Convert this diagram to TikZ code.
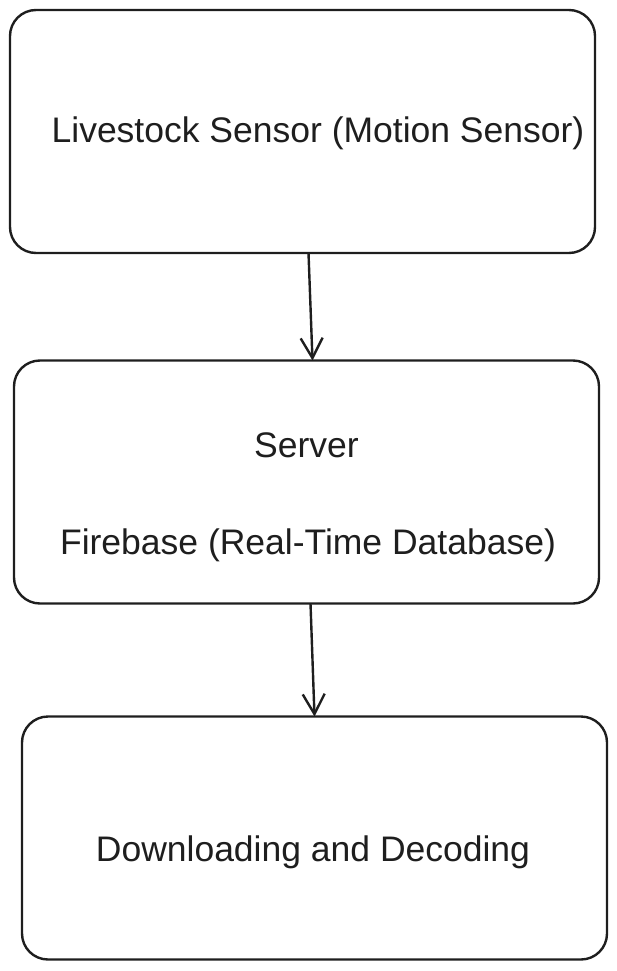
\documentclass[tikz,border=0pt]{standalone}
\usepackage{fontspec}
\setmainfont{Liberation Sans}
\usetikzlibrary{arrows.meta}
\definecolor{ink}{HTML}{1E1E1E}

\begin{document}
\begin{tikzpicture}[x=1pt, y=-1pt,
		box/.style={draw=ink, line width=2.4pt, rounded corners=26pt, minimum width=585pt, minimum height=243pt, inner sep=0pt, outer sep=0pt},
		lbl/.style={text=ink, inner sep=0pt, font=\fontsize{35.5}{42}\selectfont},
		flow/.style={draw=ink, line width=2.4pt, -{Straight Barb[length=20pt, width=22pt, line width=2.4pt]}}]
		\useasboundingbox (0,0) rectangle (617,971);
		\node [box] (sensor) at (302.5,131.5) {};
		\node [box] (server) at (306.5,482) {};
		\node [box] (decode) at (314.5,838) {};
		\node [lbl] (sensortxt) at (318,133) {Livestock Sensor (Motion Sensor)};
		\node [lbl] (servertxt) at (306.5,445) {Server};
		\node [lbl] (firebasetxt) at (308,545) {Firebase (Real-Time Database)};
		\node [lbl] (decodetxt) at (313,852) {Downloading and Decoding};
		\draw[flow] ([xshift=6pt]sensor.south) -- ([xshift=6pt]server.north);
		\draw[flow] ([xshift=4pt]server.south) -- (decode.north);
	\end{tikzpicture}
\end{document}
